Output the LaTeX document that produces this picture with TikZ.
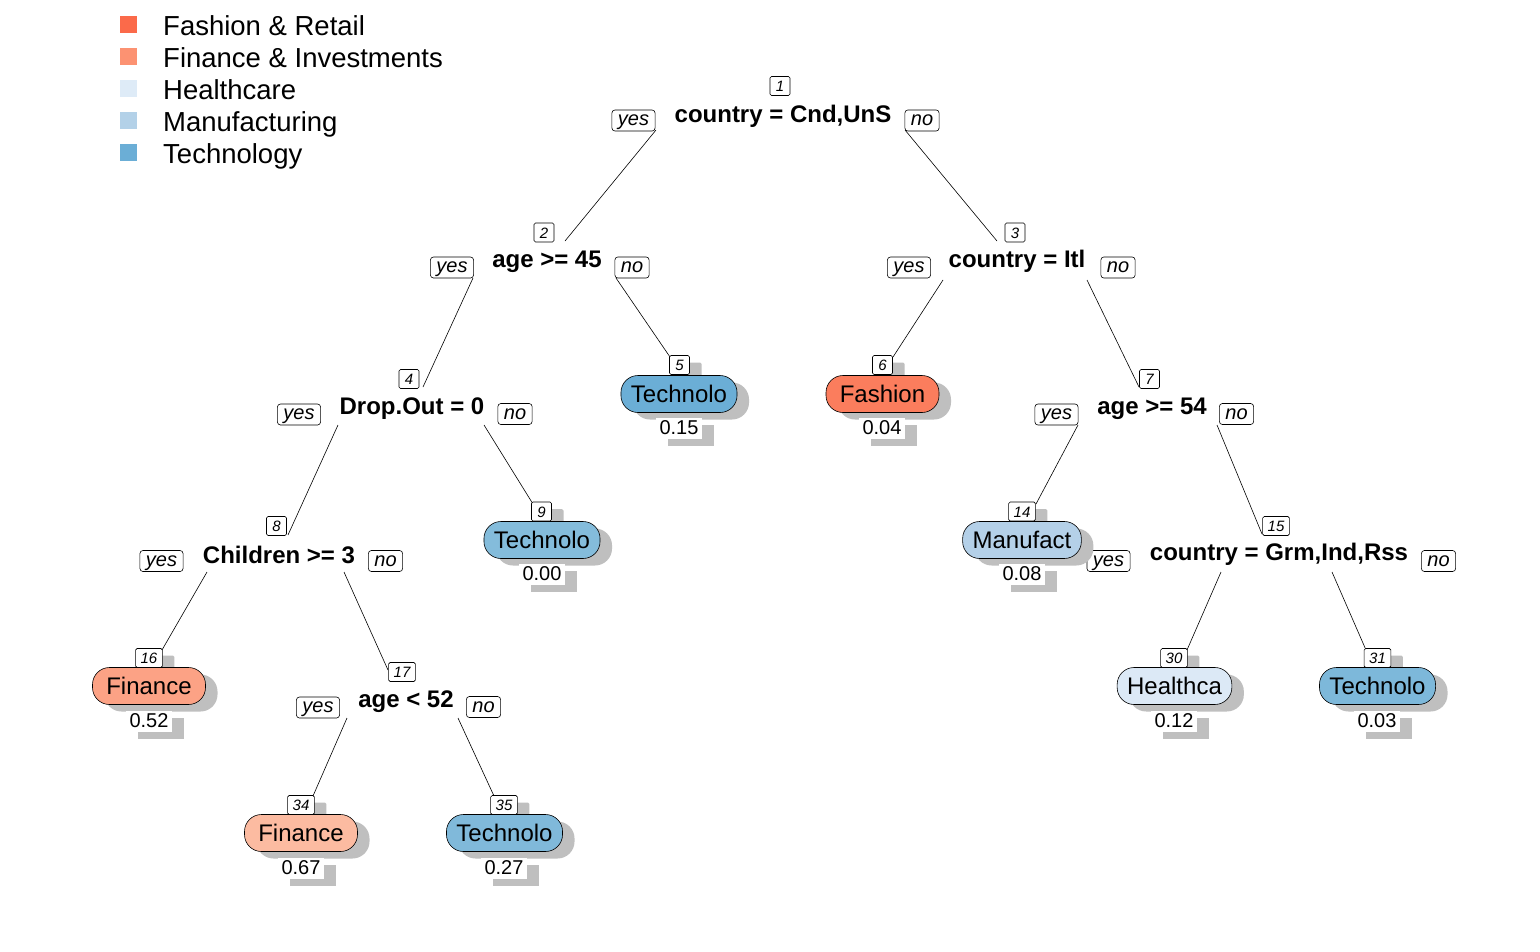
\documentclass[tikz,border=0pt]{standalone}
\usepackage{fontspec}
\setmainfont{Liberation Sans}
\usetikzlibrary{shadows}
\definecolor{lgFash}{HTML}{FB6A4A}
\definecolor{lgFin}{HTML}{FC9272}
\definecolor{lgHealth}{HTML}{DEEBF7}
\definecolor{lgManu}{HTML}{B3D1E8}
\definecolor{lgTech}{HTML}{6BAED6}
\definecolor{lfFashA}{HTML}{FB7D5D}
\definecolor{lfFinA}{HTML}{FCA285}
\definecolor{lfFinB}{HTML}{FCBBA1}
\definecolor{lfTechA}{HTML}{6BAED6}
\definecolor{lfTechB}{HTML}{84BCDB}
\definecolor{lfTechC}{HTML}{80B9DA}
\definecolor{lfTechD}{HTML}{7DB8DA}
\definecolor{lfManu}{HTML}{B4D0E8}
\definecolor{lfHealth}{HTML}{DCE9F6}
\tikzset{
  shd/.style={drop shadow={shadow xshift=12pt, shadow yshift=-7pt, fill=gray!50, opacity=1, draw=none}},
  splitlbl/.style={font=\fontsize{24}{28}\selectfont\bfseries, inner sep=0pt, anchor=base},
  numbox/.style={draw, line width=0.6pt, fill=white, rounded corners=1.5pt, font=\fontsize{15}{18}\selectfont\itshape, inner xsep=5pt, inner ysep=0pt, minimum height=19pt, minimum width=20pt, text height=11pt, text depth=0pt},
  leafnum/.style={numbox, shd},
  yn/.style={draw, line width=0.6pt, fill=white, rounded corners=3pt, font=\fontsize{20}{24}\selectfont\itshape, inner xsep=6pt, inner ysep=0pt, minimum height=21pt, text height=14pt, text depth=4pt},
  leaf/.style={draw, line width=0.6pt, rounded corners=17pt, minimum height=37pt, minimum width=113pt, inner xsep=10pt, inner ysep=0pt, font=\fontsize{24}{28}\selectfont, fill=#1, shd},
  valbox/.style={fill=white, font=\fontsize{20}{24}\selectfont, inner xsep=4pt, inner ysep=0pt, minimum height=21pt, shd},
  branch/.style={line width=0.6pt},
  legsq/.style={fill=#1, minimum size=17pt, inner sep=0pt},
  legtx/.style={font=\fontsize{27.5}{32}\selectfont, anchor=base west, inner sep=0pt},
}
\begin{document}
\begin{tikzpicture}[x=1pt,y=-1pt]
\useasboundingbox (0,0) rectangle (1540,951);
\fill[white] (0,0) rectangle (1540,951);

% legend
\node[legsq=lgFash]   (sq1) at (128.5,24.5) {};
\node[legsq=lgFin]    (sq2) at (128.5,56.5) {};
\node[legsq=lgHealth] (sq3) at (128.5,88.5) {};
\node[legsq=lgManu]   (sq4) at (128.5,120.5) {};
\node[legsq=lgTech]   (sq5) at (128.5,152.5) {};
\node[legtx] (lt1) at (163,35) {Fashion \& Retail};
\node[legtx] (lt2) at (163,67) {Finance \& Investments};
\node[legtx] (lt3) at (163,99) {Healthcare};
\node[legtx] (lt4) at (163,131) {Manufacturing};
\node[legtx] (lt5) at (163,163) {Technology};

% branch end points
\coordinate (a12) at (656,130);  \coordinate (b12) at (565,241);
\coordinate (a13) at (905,130);  \coordinate (b13) at (997,241);
\coordinate (a24) at (473,278);  \coordinate (b24) at (423,387);
\coordinate (a25) at (616,278);  \coordinate (b25) at (670,357);
\coordinate (a36) at (943,280);  \coordinate (b36) at (893,357);
\coordinate (a37) at (1087,280); \coordinate (b37) at (1139,387);
\coordinate (a48) at (338,425);  \coordinate (b48) at (288,535);
\coordinate (a49) at (484,425);  \coordinate (b49) at (533,504);
\coordinate (a714) at (1078,425); \coordinate (b714) at (1036,504);
\coordinate (a715) at (1217,425); \coordinate (b715) at (1262,534);
\coordinate (a816) at (207,572);  \coordinate (b816) at (162,650);
\coordinate (a817) at (344,572);  \coordinate (b817) at (388,670);
\coordinate (a1530) at (1221,572); \coordinate (b1530) at (1187,650);
\coordinate (a1531) at (1332,572); \coordinate (b1531) at (1366,650);
\coordinate (a1734) at (347,718);  \coordinate (b1734) at (313,796);
\coordinate (a1735) at (458,718);  \coordinate (b1735) at (494,796);
\foreach \p in {12,13,24,25,36,37,48,49,714,715,816,817,1530,1531,1734,1735}
  \draw[branch] (a\p) -- (b\p);

% split nodes
\node[splitlbl] (s1) at (783,122) {country = Cnd,UnS};
\node[numbox] (n1) at (780,86) {1};
\node[yn] (y1) at (633.5,120.5) {yes};
\node[yn] (o1) at (922,120.5) {no};

\node[splitlbl] (s2) at (547,267) {age >= 45};
\node[numbox] (n2) at (544,232.5) {2};
\node[yn] (y2) at (452,267.5) {yes};
\node[yn] (o2) at (632,267.5) {no};

\node[splitlbl] (s3) at (1017,267) {country = Itl};
\node[numbox] (n3) at (1015,232.5) {3};
\node[yn] (y3) at (909,267.5) {yes};
\node[yn] (o3) at (1118,267.5) {no};

\node[splitlbl] (s4) at (412,414) {Drop.Out = 0};
\node[numbox] (n4) at (409,379) {4};
\node[yn] (y4) at (299,414.5) {yes};
\node[yn] (o4) at (515,414) {no};

\node[splitlbl] (s7) at (1152,414) {age >= 54};
\node[numbox] (n7) at (1149.5,379) {7};
\node[yn] (y7) at (1056.5,414.5) {yes};
\node[yn] (o7) at (1236.5,414) {no};

\node[splitlbl] (s8) at (279,563) {Children >= 3};
\node[numbox] (n8) at (276.5,526) {8};
\node[yn] (y8) at (161.5,561) {yes};
\node[yn] (o8) at (385.5,561) {no};

\node[splitlbl] (s15) at (1279,560) {country = Grm,Ind,Rss};
\node[numbox] (n15) at (1276,526) {15};
\node[yn] (y15) at (1108.5,561) {yes};
\node[yn] (o15) at (1438.5,561) {no};

\node[splitlbl] (s17) at (406,707) {age < 52};
\node[numbox] (n17) at (402,672) {17};
\node[yn] (y17) at (318,707.5) {yes};
\node[yn] (o17) at (483.5,707) {no};

% leaves
\node[leafnum] (n5) at (679.5,365) {5};
\node[leaf=lfTechA] (l5) at (679,394) {Technolo};
\node[valbox] (v5) at (679,428) {0.15};

\node[leafnum] (n6) at (882.5,365) {6};
\node[leaf=lfFashA] (l6) at (882.5,394) {Fashion};
\node[valbox] (v6) at (882,428) {0.04};

\node[leafnum] (n9) at (541.5,511.5) {9};
\node[leaf=lfTechB] (l9) at (542,540) {Technolo};
\node[valbox] (v9) at (542,574) {0.00};

\node[leafnum] (n14) at (1022,511.5) {14};
\node[leaf=lfManu] (l14) at (1022,540) {Manufact};
\node[valbox] (v14) at (1022,574) {0.08};

\node[leafnum] (n16) at (149,658) {16};
\node[leaf=lfFinA] (l16) at (149,686) {Finance};
\node[valbox] (v16) at (149,721) {0.52};

\node[leafnum] (n30) at (1174,658) {30};
\node[leaf=lfHealth] (l30) at (1174.5,686) {Healthca};
\node[valbox] (v30) at (1174,721) {0.12};

\node[leafnum] (n31) at (1377.5,658) {31};
\node[leaf=lfTechD] (l31) at (1377.5,686) {Technolo};
\node[valbox] (v31) at (1377,721) {0.03};

\node[leafnum] (n34) at (301,805) {34};
\node[leaf=lfFinB] (l34) at (301,833) {Finance};
\node[valbox] (v34) at (301,868) {0.67};

\node[leafnum] (n35) at (504,805) {35};
\node[leaf=lfTechC] (l35) at (504.5,833) {Technolo};
\node[valbox] (v35) at (504,868) {0.27};
\end{tikzpicture}
\end{document}
